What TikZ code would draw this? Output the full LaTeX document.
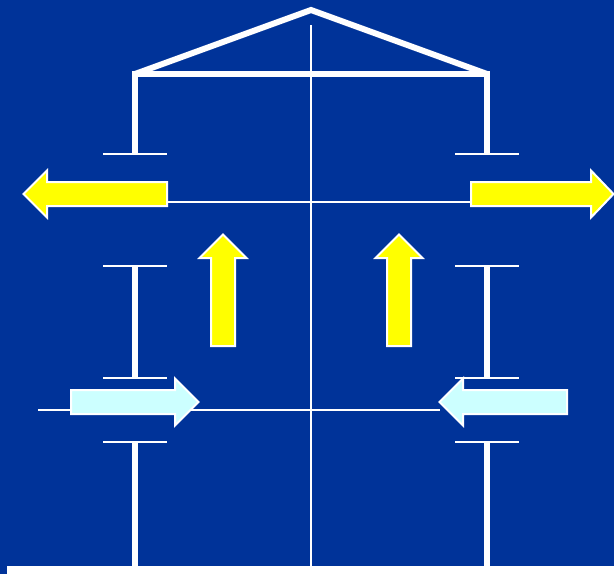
\documentclass[tikz,border=0pt]{standalone}
\usepackage{amsmath}
\usepackage{tikz}
\definecolor{slidebg}{HTML}{003399}
\definecolor{pale}{HTML}{CCFFFF}
\definecolor{brightyellow}{RGB}{255,255,0}
\tikzset{
  wall/.style={draw=white,line width=6pt},
  roof/.style={draw=white,line width=6pt},
  thinline/.style={draw=white,line width=2pt},
  yellowarrow/.style={draw=white,fill=brightyellow,line width=2pt,miter limit=10},
  palearrow/.style={draw=white,fill=pale,line width=2pt,miter limit=10}
}

\begin{document}
\begin{tikzpicture}[x=1pt,y=-1pt]

\fill[slidebg] (0,0) rectangle (614,574);
\useasboundingbox (0,0) rectangle (614,574);

\coordinate (Apex) at (311,10);
\coordinate (EaveL) at (135,74);
\coordinate (EaveR) at (487,74);

\draw[thinline] (311,25)--(311,566); % axis
\draw[thinline] (167,202)--(471,202);
\draw[thinline] (38,410)--(440,410);

\draw[roof] (EaveL)--(Apex)--(EaveR);
\draw[roof] (EaveL)--(EaveR);

\foreach \xw in {135,487}{
  \draw[wall] (\xw,71)--(\xw,154);
  \draw[wall] (\xw,266)--(\xw,378);
  \draw[wall] (\xw,442)--(\xw,566);
  \foreach \yp in {154,266,378,442}
    \draw[thinline] (\xw-32,\yp)--(\xw+32,\yp); % plate
}

\fill[white] (7,566) rectangle (614,574);

% outgoing
\draw[yellowarrow] (167,182)--(47,182)--(47,170.5)--(23.5,194)--(47,217.5)--(47,206)--(167,206)--cycle;
\draw[yellowarrow] (471,182)--(591,182)--(591,170.5)--(613.5,194)--(591,217.5)--(591,206)--(471,206)--cycle;

% upward
\foreach \xa in {223,399}
  \draw[yellowarrow] (\xa-12,346)--(\xa-12,258)--(\xa-23.5,258)--(\xa,234.5)--(\xa+23.5,258)--(\xa+12,258)--(\xa+12,346)--cycle;

% incoming
\draw[palearrow] (71,390)--(175,390)--(175,378.5)--(198.5,402)--(175,425.5)--(175,414)--(71,414)--cycle;
\draw[palearrow] (567,390)--(463,390)--(463,378.5)--(439.5,402)--(463,425.5)--(463,414)--(567,414)--cycle;

\end{tikzpicture}
\end{document}
